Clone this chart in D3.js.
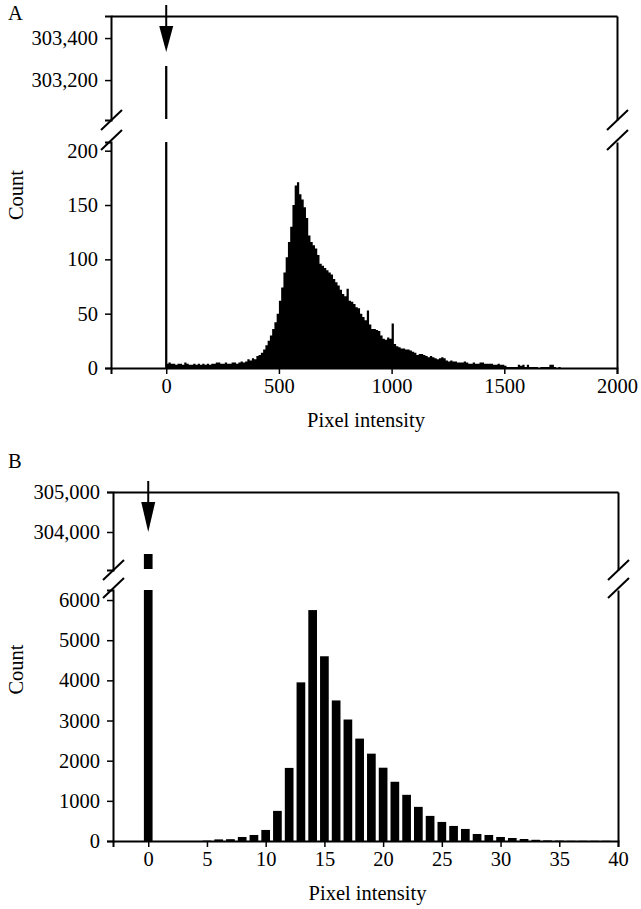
<!DOCTYPE html>
<html>
<head>
<meta charset="utf-8">
<script src="https://cdn.jsdelivr.net/npm/d3@7"></script>
<style>
  html, body { margin: 0; padding: 0; background: #fff; }
  svg { display: block; }
</style>
</head>
<body>
<div id="chart"></div>
<script>
// Panel A: histogram, bin width 10, starting at 0
const binWidthA = 10;
const countsA = [
  4, 5, 4, 4, 3, 4, 4, 3, 5, 4,
  3, 3, 4, 3, 4, 3, 4, 3, 4, 3,
  4, 4, 5, 5, 4, 4, 5, 4, 4, 5,
  5, 4, 5, 6, 5, 6, 8, 7, 9, 8,
  11, 12, 14, 17, 21, 25, 30, 36, 42, 50,
  62, 74, 88, 102, 116, 130, 150, 168, 171, 160,
  155, 148, 138, 122, 116, 113, 110, 104, 96, 94,
  92, 90, 88, 86, 82, 79, 76, 72, 68, 66,
  73, 62, 61, 59, 56, 55, 50, 47, 44, 53,
  40, 36, 36, 35, 34, 30, 27, 26, 28, 27,
  41, 22, 20, 19, 18, 18, 17, 17, 16, 15,
  14, 12, 13, 13, 12, 11, 10, 11, 10, 9,
  8, 9, 10, 9, 7, 6, 7, 6, 6, 5,
  5, 5, 6, 5, 4, 4, 5, 4, 4, 5,
  5, 4, 4, 4, 4, 3, 3, 4, 3, 3,
  2, 1, 1, 1, 1, 1, 3, 2, 3, 1,
  3, 1, 1, 1, 1, 0, 1, 1, 1, 1,
  3, 3, 1, 0, 1, 0, 0, 0, 0, 0
];
const zeroCountA = 303267;
const xTicksA = [0, 500, 1000, 1500, 2000];
const yTicksLowerA = [0, 50, 100, 150, 200];
const yTicksUpperA = [303200, 303400];

// Panel B: one bar per intensity value
const intensitiesB = d3.range(1, 40);
const countsB = [
  0, 0, 0, 0, 10, 40, 45, 100, 150, 275,
  750, 1820, 3950, 5750, 4600, 3500, 3025, 2550, 2175, 1825,
  1475, 1150, 850, 625, 475, 375, 300, 175, 150, 100,
  75, 50, 30, 15, 10, 5, 5, 5, 5
];
const zeroCountB = 303450;
const xTicksB = [0, 5, 10, 15, 20, 25, 30, 35, 40];
const yTicksLowerB = [0, 1000, 2000, 3000, 4000, 5000, 6000];
const yTicksUpperB = [304000, 305000];

const width = 641, height = 909;
const fontSize = 20.5;
const serif = "'Liberation Serif', 'Times New Roman', Times, 'DejaVu Serif', serif";
const svg = d3.select("#chart").append("svg").attr("width", width).attr("height", height);

function styleAxis(g) {
  g.attr("font-family", null).attr("font-size", null);
  g.selectAll(".domain").attr("stroke", "#000").attr("stroke-width", 2);
  g.selectAll(".tick line").attr("stroke", "#000").attr("stroke-width", 1.5);
  g.selectAll(".tick text").style("font-size", fontSize + "px").style("font-family", serif).attr("fill", "#000");
}

function label(g) {
  return g.append("text").style("font-family", serif).style("font-size", fontSize + "px").attr("fill", "#000");
}

function breakMarks(g, x, yUp, yLow) {
  [[yUp + 10, yUp - 10], [yLow + 8, yLow - 12]].forEach(([y1, y2]) => {
    g.append("line").attr("x1", x - 10).attr("y1", y1).attr("x2", x + 11).attr("y2", y2)
      .attr("stroke", "#000").attr("stroke-width", 2);
  });
}

function panel(cfg) {
  const g = svg.append("g");
  const x = d3.scaleLinear().domain(cfg.xDomain).range([cfg.left, cfg.right]);
  const yUp = d3.scaleLinear().domain(cfg.upperDomain).range([cfg.upperBottom, cfg.top]);
  const yLow = d3.scaleLinear().domain(cfg.lowerDomain).range([cfg.bottom, cfg.lowerTop]);

  // marks
  cfg.drawMarks(g, x, yLow);

  // zero-intensity bar, broken across the axis break
  const zx0 = x(-cfg.zeroHalf), zx1 = x(cfg.zeroHalf);
  g.append("rect").attr("x", zx0).attr("width", zx1 - zx0)
    .attr("y", yUp(cfg.zeroCount)).attr("height", cfg.upperBottom - 1 - yUp(cfg.zeroCount)).attr("fill", "#000");
  g.append("rect").attr("x", zx0).attr("width", zx1 - zx0)
    .attr("y", cfg.lowerTop).attr("height", yLow(0) - cfg.lowerTop).attr("fill", "#000");

  // arrow pointing at the zero bar
  const ax = x(0);
  g.append("line").attr("x1", ax).attr("x2", ax).attr("y1", cfg.top - 11).attr("y2", cfg.top + 12)
    .attr("stroke", "#000").attr("stroke-width", 2);
  g.append("path").attr("d", `M${ax - 7},${cfg.top + 10}L${ax + 7},${cfg.top + 10}L${ax},${cfg.top + cfg.arrowLen}Z`)
    .attr("fill", "#000");

  // left axis, two segments
  g.append("g").attr("transform", `translate(${cfg.left},0)`)
    .call(d3.axisLeft(yUp).tickValues(cfg.yTicksUpper).tickFormat(d3.format(",")).tickSizeOuter(0).tickSize(6).tickPadding(7))
    .call(styleAxis);
  g.append("g").attr("transform", `translate(${cfg.left},0)`)
    .call(d3.axisLeft(yLow).tickValues(cfg.yTicksLower).tickFormat(d3.format("d")).tickSizeOuter(0).tickSize(6).tickPadding(7))
    .call(styleAxis);
  // right axis, two segments without ticks
  [yUp, yLow].forEach((s) => {
    g.append("g").attr("transform", `translate(${cfg.right},0)`)
      .call(d3.axisRight(s).tickValues([]).tickSizeOuter(0)).call(styleAxis);
  });
  // top border
  g.append("g").attr("transform", `translate(0,${cfg.top})`)
    .call(d3.axisTop(x).tickValues([]).tickSizeOuter(0)).call(styleAxis);
  // bottom axis
  g.append("g").attr("transform", `translate(0,${cfg.bottom})`)
    .call(d3.axisBottom(x).tickValues(cfg.xTicks).tickFormat(d3.format("d")).tickSizeOuter(0).tickSize(6).tickPadding(4))
    .call(styleAxis);

  breakMarks(g, cfg.left, cfg.upperBottom, cfg.lowerTop);
  breakMarks(g, cfg.right, cfg.upperBottom, cfg.lowerTop);

  // labels
  label(g).attr("x", 8).attr("y", cfg.top + cfg.letterDy).text(cfg.letter);
  label(g).attr("x", (cfg.left + cfg.right) / 2 + 2).attr("y", cfg.bottom + 59)
    .attr("text-anchor", "middle").text("Pixel intensity");
  label(g).attr("transform", `translate(23,${(cfg.top + cfg.bottom) / 2 + 3}) rotate(-90)`)
    .attr("text-anchor", "middle").text("Count");
}

panel({
  letter: "A", letterDy: 4,
  left: 111, right: 617, top: 16, upperBottom: 120, lowerTop: 142, bottom: 368,
  xDomain: [-245, 2000], upperDomain: [303010, 303505], lowerDomain: [0, 208],
  xTicks: xTicksA, yTicksUpper: yTicksUpperA, yTicksLower: yTicksLowerA,
  zeroCount: zeroCountA, zeroHalf: 5, arrowLen: 36,
  drawMarks: (g, x, y) => {
    const pts = countsA.map((c, i) => ({ v: i * binWidthA, c }));
    pts.push({ v: countsA.length * binWidthA, c: 0 });
    const area = d3.area().curve(d3.curveStepAfter)
      .x((d) => x(d.v)).y0(y(0)).y1((d) => y(d.c));
    g.append("path").attr("d", area(pts)).attr("fill", "#000");
  }
});

panel({
  letter: "B", letterDy: -24,
  left: 113, right: 618, top: 492, upperBottom: 570, lowerTop: 590, bottom: 841,
  xDomain: [-3, 40], upperDomain: [303050, 305000], lowerDomain: [0, 6250],
  xTicks: xTicksB, yTicksUpper: yTicksUpperB, yTicksLower: yTicksLowerB,
  zeroCount: zeroCountB, zeroHalf: 0.37, arrowLen: 40,
  drawMarks: (g, x, y) => {
    g.selectAll("rect.bar").data(intensitiesB.map((v, i) => ({ v, c: countsB[i] })))
      .join("rect").attr("class", "bar")
      .attr("x", (d) => x(d.v - 0.37)).attr("width", (d) => x(d.v + 0.37) - x(d.v - 0.37))
      .attr("y", (d) => y(d.c)).attr("height", (d) => y(0) - y(d.c)).attr("fill", "#000");
  }
});
</script>
</body>
</html>
